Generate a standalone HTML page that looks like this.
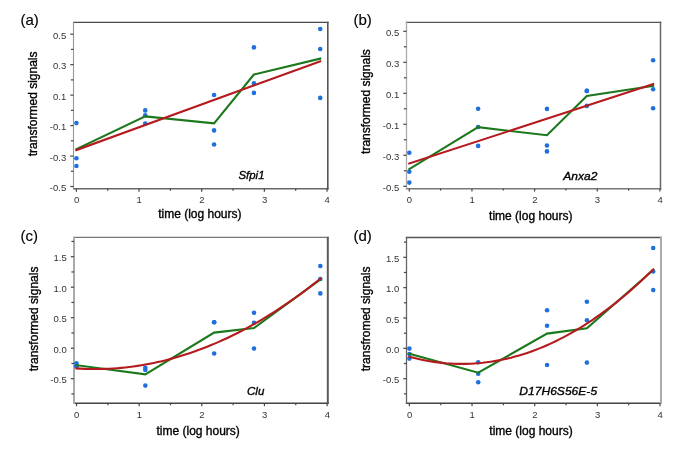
<!DOCTYPE html>
<html><head><meta charset="utf-8"><style>html,body{margin:0;padding:0;background:#fff;}svg{display:block;will-change:transform;}text{font-family:"Liberation Sans", sans-serif;}.t{stroke:#000;stroke-width:0.35px;}.t2{stroke:#000;stroke-width:0.15px;}</style></head><body>
<svg width="685" height="460" viewBox="0 0 685 460">
<rect x="0" y="0" width="685" height="460" fill="#fff"/>
<g>
<line x1="72.95" y1="22.3" x2="328.6" y2="22.3" stroke="#4a4a4a" stroke-width="1.2"/>
<line x1="72.95" y1="188.8" x2="328.6" y2="188.8" stroke="#666" stroke-width="1.6"/>
<line x1="73.5" y1="21.7" x2="73.5" y2="189.6" stroke="#999" stroke-width="1.1"/>
<line x1="327.8" y1="21.7" x2="327.8" y2="189.6" stroke="#555" stroke-width="1.6"/>
<line x1="70.3" y1="34.2" x2="73.5" y2="34.2" stroke="#444" stroke-width="1.2"/>
<text x="66.2" y="38.7" font-size="9.5" fill="#333" text-anchor="end">0.5</text>
<line x1="70.3" y1="64.66" x2="73.5" y2="64.66" stroke="#444" stroke-width="1.2"/>
<text x="66.2" y="69.16" font-size="9.5" fill="#333" text-anchor="end">0.3</text>
<line x1="70.3" y1="95.12" x2="73.5" y2="95.12" stroke="#444" stroke-width="1.2"/>
<text x="66.2" y="99.62" font-size="9.5" fill="#333" text-anchor="end">0.1</text>
<line x1="70.3" y1="125.58" x2="73.5" y2="125.58" stroke="#444" stroke-width="1.2"/>
<text x="66.2" y="130.08" font-size="9.5" fill="#333" text-anchor="end">-0.1</text>
<line x1="70.3" y1="156.04" x2="73.5" y2="156.04" stroke="#444" stroke-width="1.2"/>
<text x="66.2" y="160.54" font-size="9.5" fill="#333" text-anchor="end">-0.3</text>
<line x1="70.3" y1="186.5" x2="73.5" y2="186.5" stroke="#444" stroke-width="1.2"/>
<text x="66.2" y="191" font-size="9.5" fill="#333" text-anchor="end">-0.5</text>
<line x1="70.9" y1="49.43" x2="73.5" y2="49.43" stroke="#444" stroke-width="1.2"/>
<line x1="70.9" y1="79.89" x2="73.5" y2="79.89" stroke="#444" stroke-width="1.2"/>
<line x1="70.9" y1="110.35" x2="73.5" y2="110.35" stroke="#444" stroke-width="1.2"/>
<line x1="70.9" y1="140.81" x2="73.5" y2="140.81" stroke="#444" stroke-width="1.2"/>
<line x1="70.9" y1="171.27" x2="73.5" y2="171.27" stroke="#444" stroke-width="1.2"/>
<line x1="76.4" y1="188.8" x2="76.4" y2="191.7" stroke="#444" stroke-width="1.2"/>
<text x="76.6" y="203.4" font-size="9.5" fill="#333" text-anchor="middle">0</text>
<line x1="139.05" y1="188.8" x2="139.05" y2="191.7" stroke="#444" stroke-width="1.2"/>
<text x="139.25" y="203.4" font-size="9.5" fill="#333" text-anchor="middle">1</text>
<line x1="201.7" y1="188.8" x2="201.7" y2="191.7" stroke="#444" stroke-width="1.2"/>
<text x="201.9" y="203.4" font-size="9.5" fill="#333" text-anchor="middle">2</text>
<line x1="264.35" y1="188.8" x2="264.35" y2="191.7" stroke="#444" stroke-width="1.2"/>
<text x="264.55" y="203.4" font-size="9.5" fill="#333" text-anchor="middle">3</text>
<line x1="327" y1="188.8" x2="327" y2="191.7" stroke="#444" stroke-width="1.2"/>
<text x="327.2" y="203.4" font-size="9.5" fill="#333" text-anchor="middle">4</text>
<line x1="107.73" y1="188.8" x2="107.73" y2="190.7" stroke="#444" stroke-width="1.2"/>
<line x1="170.38" y1="188.8" x2="170.38" y2="190.7" stroke="#444" stroke-width="1.2"/>
<line x1="233.03" y1="188.8" x2="233.03" y2="190.7" stroke="#444" stroke-width="1.2"/>
<line x1="295.68" y1="188.8" x2="295.68" y2="190.7" stroke="#444" stroke-width="1.2"/>
<text x="199.85" y="217.9" font-size="12" class="t" fill="#000" text-anchor="middle">time (log hours)</text>
<text transform="translate(36.7,103.85) rotate(-90)" font-size="12" class="t" fill="#000" text-anchor="middle">transformed signals</text>
<text x="20.4" y="25.4" font-size="15" class="t2" fill="#000">(a)</text>
<text x="238.5" y="179.4" font-size="11.5" class="t" font-style="italic" fill="#000" textLength="26" lengthAdjust="spacingAndGlyphs">Sfpi1</text>
<circle cx="76.4" cy="123.1" r="2.3" fill="#1f70dd"/>
<circle cx="76.4" cy="158.3" r="2.3" fill="#1f70dd"/>
<circle cx="76.4" cy="166" r="2.3" fill="#1f70dd"/>
<circle cx="145.23" cy="110.4" r="2.3" fill="#1f70dd"/>
<circle cx="145.23" cy="115.3" r="2.3" fill="#1f70dd"/>
<circle cx="145.23" cy="123.5" r="2.3" fill="#1f70dd"/>
<circle cx="214.06" cy="95" r="2.3" fill="#1f70dd"/>
<circle cx="214.06" cy="130.4" r="2.3" fill="#1f70dd"/>
<circle cx="214.06" cy="144.5" r="2.3" fill="#1f70dd"/>
<circle cx="253.9" cy="47.4" r="2.3" fill="#1f70dd"/>
<circle cx="253.9" cy="83.2" r="2.3" fill="#1f70dd"/>
<circle cx="253.9" cy="92.9" r="2.3" fill="#1f70dd"/>
<circle cx="320.22" cy="29" r="2.3" fill="#1f70dd"/>
<circle cx="320.22" cy="49" r="2.3" fill="#1f70dd"/>
<circle cx="320.22" cy="97.9" r="2.3" fill="#1f70dd"/>
<polyline points="76.4,149.13 145.23,116.4 214.06,123.3 253.9,74.5 320.22,58.63" fill="none" stroke="#1c781c" stroke-width="2.1" stroke-linejoin="miter" stroke-linecap="square"/>
<polyline points="76.4,150.09 320.22,61.35" fill="none" stroke="#b51b1e" stroke-width="2.1" stroke-linejoin="round" stroke-linecap="square"/>
</g>
<g>
<line x1="405.85" y1="22.3" x2="661.25" y2="22.3" stroke="#555" stroke-width="1.3"/>
<line x1="405.85" y1="188.7" x2="661.25" y2="188.7" stroke="#777" stroke-width="1.6"/>
<line x1="406.5" y1="21.65" x2="406.5" y2="189.5" stroke="#aaa" stroke-width="1.3"/>
<line x1="660.5" y1="21.65" x2="660.5" y2="189.5" stroke="#666" stroke-width="1.5"/>
<line x1="403.3" y1="31.3" x2="406.5" y2="31.3" stroke="#444" stroke-width="1.2"/>
<text x="399.2" y="35.8" font-size="9.5" fill="#333" text-anchor="end">0.5</text>
<line x1="403.3" y1="62.3" x2="406.5" y2="62.3" stroke="#444" stroke-width="1.2"/>
<text x="399.2" y="66.8" font-size="9.5" fill="#333" text-anchor="end">0.3</text>
<line x1="403.3" y1="93.3" x2="406.5" y2="93.3" stroke="#444" stroke-width="1.2"/>
<text x="399.2" y="97.8" font-size="9.5" fill="#333" text-anchor="end">0.1</text>
<line x1="403.3" y1="124.3" x2="406.5" y2="124.3" stroke="#444" stroke-width="1.2"/>
<text x="399.2" y="128.8" font-size="9.5" fill="#333" text-anchor="end">-0.1</text>
<line x1="403.3" y1="155.3" x2="406.5" y2="155.3" stroke="#444" stroke-width="1.2"/>
<text x="399.2" y="159.8" font-size="9.5" fill="#333" text-anchor="end">-0.3</text>
<line x1="403.3" y1="186.3" x2="406.5" y2="186.3" stroke="#444" stroke-width="1.2"/>
<text x="399.2" y="190.8" font-size="9.5" fill="#333" text-anchor="end">-0.5</text>
<line x1="403.9" y1="46.8" x2="406.5" y2="46.8" stroke="#444" stroke-width="1.2"/>
<line x1="403.9" y1="77.8" x2="406.5" y2="77.8" stroke="#444" stroke-width="1.2"/>
<line x1="403.9" y1="108.8" x2="406.5" y2="108.8" stroke="#444" stroke-width="1.2"/>
<line x1="403.9" y1="139.8" x2="406.5" y2="139.8" stroke="#444" stroke-width="1.2"/>
<line x1="403.9" y1="170.8" x2="406.5" y2="170.8" stroke="#444" stroke-width="1.2"/>
<line x1="409.3" y1="188.7" x2="409.3" y2="191.6" stroke="#444" stroke-width="1.2"/>
<text x="409.5" y="203.3" font-size="9.5" fill="#333" text-anchor="middle">0</text>
<line x1="471.95" y1="188.7" x2="471.95" y2="191.6" stroke="#444" stroke-width="1.2"/>
<text x="472.15" y="203.3" font-size="9.5" fill="#333" text-anchor="middle">1</text>
<line x1="534.6" y1="188.7" x2="534.6" y2="191.6" stroke="#444" stroke-width="1.2"/>
<text x="534.8" y="203.3" font-size="9.5" fill="#333" text-anchor="middle">2</text>
<line x1="597.25" y1="188.7" x2="597.25" y2="191.6" stroke="#444" stroke-width="1.2"/>
<text x="597.45" y="203.3" font-size="9.5" fill="#333" text-anchor="middle">3</text>
<line x1="659.9" y1="188.7" x2="659.9" y2="191.6" stroke="#444" stroke-width="1.2"/>
<text x="660.1" y="203.3" font-size="9.5" fill="#333" text-anchor="middle">4</text>
<line x1="440.62" y1="188.7" x2="440.62" y2="190.6" stroke="#444" stroke-width="1.2"/>
<line x1="503.27" y1="188.7" x2="503.27" y2="190.6" stroke="#444" stroke-width="1.2"/>
<line x1="565.92" y1="188.7" x2="565.92" y2="190.6" stroke="#444" stroke-width="1.2"/>
<line x1="628.58" y1="188.7" x2="628.58" y2="190.6" stroke="#444" stroke-width="1.2"/>
<text x="530.8" y="219.5" font-size="12" class="t" fill="#000" text-anchor="middle">time (log hours)</text>
<text transform="translate(370.1,101.55) rotate(-90)" font-size="12" class="t" fill="#000" text-anchor="middle">transformed signals</text>
<text x="353.4" y="25.4" font-size="15" class="t2" fill="#000">(b)</text>
<text x="563.3" y="180.2" font-size="11.5" class="t" font-style="italic" fill="#000" textLength="34" lengthAdjust="spacingAndGlyphs">Anxa2</text>
<circle cx="409.3" cy="152.8" r="2.3" fill="#1f70dd"/>
<circle cx="409.3" cy="171.7" r="2.3" fill="#1f70dd"/>
<circle cx="409.3" cy="182.6" r="2.3" fill="#1f70dd"/>
<circle cx="478.13" cy="108.7" r="2.3" fill="#1f70dd"/>
<circle cx="478.13" cy="127" r="2.3" fill="#1f70dd"/>
<circle cx="478.13" cy="145.9" r="2.3" fill="#1f70dd"/>
<circle cx="546.96" cy="108.9" r="2.3" fill="#1f70dd"/>
<circle cx="546.96" cy="145.5" r="2.3" fill="#1f70dd"/>
<circle cx="546.96" cy="151.4" r="2.3" fill="#1f70dd"/>
<circle cx="586.8" cy="90.9" r="2.3" fill="#1f70dd"/>
<circle cx="586.8" cy="90.9" r="2.3" fill="#1f70dd"/>
<circle cx="586.8" cy="105.9" r="2.3" fill="#1f70dd"/>
<circle cx="653.12" cy="60.2" r="2.3" fill="#1f70dd"/>
<circle cx="653.12" cy="89.3" r="2.3" fill="#1f70dd"/>
<circle cx="653.12" cy="108.3" r="2.3" fill="#1f70dd"/>
<polyline points="409.3,169.03 478.13,127.2 546.96,135.27 586.8,95.9 653.12,85.93" fill="none" stroke="#1c781c" stroke-width="2.1" stroke-linejoin="miter" stroke-linecap="square"/>
<polyline points="409.3,163.55 653.12,84.16" fill="none" stroke="#b51b1e" stroke-width="2.1" stroke-linejoin="round" stroke-linecap="square"/>
</g>
<g>
<line x1="73" y1="237.4" x2="328.8" y2="237.4" stroke="#777" stroke-width="1.1"/>
<line x1="73" y1="403.3" x2="328.8" y2="403.3" stroke="#444" stroke-width="1.5"/>
<line x1="74" y1="236.85" x2="74" y2="404.05" stroke="#aaa" stroke-width="2.0"/>
<line x1="327.8" y1="236.85" x2="327.8" y2="404.05" stroke="#5a5a5a" stroke-width="2.0"/>
<line x1="70.8" y1="256.7" x2="74" y2="256.7" stroke="#444" stroke-width="1.2"/>
<text x="66.7" y="261.2" font-size="9.5" fill="#333" text-anchor="end">1.5</text>
<line x1="70.8" y1="287.2" x2="74" y2="287.2" stroke="#444" stroke-width="1.2"/>
<text x="66.7" y="291.7" font-size="9.5" fill="#333" text-anchor="end">1.0</text>
<line x1="70.8" y1="317.7" x2="74" y2="317.7" stroke="#444" stroke-width="1.2"/>
<text x="66.7" y="322.2" font-size="9.5" fill="#333" text-anchor="end">0.5</text>
<line x1="70.8" y1="348.2" x2="74" y2="348.2" stroke="#444" stroke-width="1.2"/>
<text x="66.7" y="352.7" font-size="9.5" fill="#333" text-anchor="end">0.0</text>
<line x1="70.8" y1="378.7" x2="74" y2="378.7" stroke="#444" stroke-width="1.2"/>
<text x="66.7" y="383.2" font-size="9.5" fill="#333" text-anchor="end">-0.5</text>
<line x1="71.4" y1="241.45" x2="74" y2="241.45" stroke="#444" stroke-width="1.2"/>
<line x1="71.4" y1="271.95" x2="74" y2="271.95" stroke="#444" stroke-width="1.2"/>
<line x1="71.4" y1="302.45" x2="74" y2="302.45" stroke="#444" stroke-width="1.2"/>
<line x1="71.4" y1="332.95" x2="74" y2="332.95" stroke="#444" stroke-width="1.2"/>
<line x1="71.4" y1="363.45" x2="74" y2="363.45" stroke="#444" stroke-width="1.2"/>
<line x1="71.4" y1="393.95" x2="74" y2="393.95" stroke="#444" stroke-width="1.2"/>
<line x1="76.5" y1="403.3" x2="76.5" y2="406.2" stroke="#444" stroke-width="1.2"/>
<text x="76.7" y="417.9" font-size="9.5" fill="#333" text-anchor="middle">0</text>
<line x1="139.15" y1="403.3" x2="139.15" y2="406.2" stroke="#444" stroke-width="1.2"/>
<text x="139.35" y="417.9" font-size="9.5" fill="#333" text-anchor="middle">1</text>
<line x1="201.8" y1="403.3" x2="201.8" y2="406.2" stroke="#444" stroke-width="1.2"/>
<text x="202" y="417.9" font-size="9.5" fill="#333" text-anchor="middle">2</text>
<line x1="264.45" y1="403.3" x2="264.45" y2="406.2" stroke="#444" stroke-width="1.2"/>
<text x="264.65" y="417.9" font-size="9.5" fill="#333" text-anchor="middle">3</text>
<line x1="327.1" y1="403.3" x2="327.1" y2="406.2" stroke="#444" stroke-width="1.2"/>
<text x="327.3" y="417.9" font-size="9.5" fill="#333" text-anchor="middle">4</text>
<line x1="107.83" y1="403.3" x2="107.83" y2="405.2" stroke="#444" stroke-width="1.2"/>
<line x1="170.47" y1="403.3" x2="170.47" y2="405.2" stroke="#444" stroke-width="1.2"/>
<line x1="233.12" y1="403.3" x2="233.12" y2="405.2" stroke="#444" stroke-width="1.2"/>
<line x1="295.77" y1="403.3" x2="295.77" y2="405.2" stroke="#444" stroke-width="1.2"/>
<text x="198.2" y="434.9" font-size="12" class="t" fill="#000" text-anchor="middle">time (log hours)</text>
<text transform="translate(37.6,318.95) rotate(-90)" font-size="12" class="t" fill="#000" text-anchor="middle">transformed signals</text>
<text x="20.4" y="240.6" font-size="15" class="t2" fill="#000">(c)</text>
<text x="247" y="395.4" font-size="11.5" class="t" font-style="italic" fill="#000" textLength="17.3" lengthAdjust="spacingAndGlyphs">Clu</text>
<circle cx="76.5" cy="363.2" r="2.3" fill="#1f70dd"/>
<circle cx="76.5" cy="366.2" r="2.3" fill="#1f70dd"/>
<circle cx="76.5" cy="366.2" r="2.3" fill="#1f70dd"/>
<circle cx="145.33" cy="367.7" r="2.3" fill="#1f70dd"/>
<circle cx="145.33" cy="369.9" r="2.3" fill="#1f70dd"/>
<circle cx="145.33" cy="385.6" r="2.3" fill="#1f70dd"/>
<circle cx="214.16" cy="322.2" r="2.3" fill="#1f70dd"/>
<circle cx="214.16" cy="322.2" r="2.3" fill="#1f70dd"/>
<circle cx="214.16" cy="353.5" r="2.3" fill="#1f70dd"/>
<circle cx="254" cy="312.8" r="2.3" fill="#1f70dd"/>
<circle cx="254" cy="322.8" r="2.3" fill="#1f70dd"/>
<circle cx="254" cy="348.5" r="2.3" fill="#1f70dd"/>
<circle cx="320.32" cy="266" r="2.3" fill="#1f70dd"/>
<circle cx="320.32" cy="279" r="2.3" fill="#1f70dd"/>
<circle cx="320.32" cy="293.4" r="2.3" fill="#1f70dd"/>
<polyline points="76.5,365.2 145.33,374.4 214.16,332.63 254,328.03 320.32,279.47" fill="none" stroke="#1c781c" stroke-width="2.1" stroke-linejoin="miter" stroke-linecap="square"/>
<polyline points="76.5,368.41 80.56,368.66 84.63,368.84 88.69,368.97 92.75,369.04 96.82,369.04 100.88,368.99 104.95,368.88 109.01,368.71 113.07,368.49 117.14,368.2 121.2,367.85 125.26,367.45 129.33,366.99 133.39,366.46 137.46,365.88 141.52,365.24 145.58,364.54 149.65,363.79 153.71,362.97 157.77,362.09 161.84,361.16 165.9,360.16 169.97,359.11 174.03,358 178.09,356.83 182.16,355.6 186.22,354.31 190.28,352.96 194.35,351.56 198.41,350.09 202.47,348.57 206.54,346.99 210.6,345.34 214.67,343.64 218.73,341.88 222.79,340.06 226.86,338.19 230.92,336.25 234.98,334.25 239.05,332.2 243.11,330.09 247.18,327.91 251.24,325.68 255.3,323.39 259.37,321.04 263.43,318.64 267.49,316.17 271.56,313.64 275.62,311.06 279.69,308.42 283.75,305.71 287.81,302.95 291.88,300.13 295.94,297.25 300,294.31 304.07,291.32 308.13,288.26 312.2,285.14 316.26,281.97 320.32,278.74" fill="none" stroke="#b51b1e" stroke-width="2.1" stroke-linejoin="round" stroke-linecap="square"/>
</g>
<g>
<line x1="405.85" y1="237.5" x2="662" y2="237.5" stroke="#555" stroke-width="1.3"/>
<line x1="405.85" y1="403.3" x2="662" y2="403.3" stroke="#444" stroke-width="1.5"/>
<line x1="406.5" y1="236.85" x2="406.5" y2="404.05" stroke="#666" stroke-width="1.3"/>
<line x1="661" y1="236.85" x2="661" y2="404.05" stroke="#aaa" stroke-width="2.0"/>
<line x1="403.3" y1="257.3" x2="406.5" y2="257.3" stroke="#444" stroke-width="1.2"/>
<text x="399.2" y="261.8" font-size="9.5" fill="#333" text-anchor="end">1.5</text>
<line x1="403.3" y1="287.65" x2="406.5" y2="287.65" stroke="#444" stroke-width="1.2"/>
<text x="399.2" y="292.15" font-size="9.5" fill="#333" text-anchor="end">1.0</text>
<line x1="403.3" y1="318" x2="406.5" y2="318" stroke="#444" stroke-width="1.2"/>
<text x="399.2" y="322.5" font-size="9.5" fill="#333" text-anchor="end">0.5</text>
<line x1="403.3" y1="348.35" x2="406.5" y2="348.35" stroke="#444" stroke-width="1.2"/>
<text x="399.2" y="352.85" font-size="9.5" fill="#333" text-anchor="end">0.0</text>
<line x1="403.3" y1="378.7" x2="406.5" y2="378.7" stroke="#444" stroke-width="1.2"/>
<text x="399.2" y="383.2" font-size="9.5" fill="#333" text-anchor="end">-0.5</text>
<line x1="403.9" y1="242.12" x2="406.5" y2="242.12" stroke="#444" stroke-width="1.2"/>
<line x1="403.9" y1="272.48" x2="406.5" y2="272.48" stroke="#444" stroke-width="1.2"/>
<line x1="403.9" y1="302.82" x2="406.5" y2="302.82" stroke="#444" stroke-width="1.2"/>
<line x1="403.9" y1="333.18" x2="406.5" y2="333.18" stroke="#444" stroke-width="1.2"/>
<line x1="403.9" y1="363.52" x2="406.5" y2="363.52" stroke="#444" stroke-width="1.2"/>
<line x1="403.9" y1="393.88" x2="406.5" y2="393.88" stroke="#444" stroke-width="1.2"/>
<line x1="409.4" y1="403.3" x2="409.4" y2="406.2" stroke="#444" stroke-width="1.2"/>
<text x="409.6" y="417.9" font-size="9.5" fill="#333" text-anchor="middle">0</text>
<line x1="472.05" y1="403.3" x2="472.05" y2="406.2" stroke="#444" stroke-width="1.2"/>
<text x="472.25" y="417.9" font-size="9.5" fill="#333" text-anchor="middle">1</text>
<line x1="534.7" y1="403.3" x2="534.7" y2="406.2" stroke="#444" stroke-width="1.2"/>
<text x="534.9" y="417.9" font-size="9.5" fill="#333" text-anchor="middle">2</text>
<line x1="597.35" y1="403.3" x2="597.35" y2="406.2" stroke="#444" stroke-width="1.2"/>
<text x="597.55" y="417.9" font-size="9.5" fill="#333" text-anchor="middle">3</text>
<line x1="660" y1="403.3" x2="660" y2="406.2" stroke="#444" stroke-width="1.2"/>
<text x="660.2" y="417.9" font-size="9.5" fill="#333" text-anchor="middle">4</text>
<line x1="440.72" y1="403.3" x2="440.72" y2="405.2" stroke="#444" stroke-width="1.2"/>
<line x1="503.38" y1="403.3" x2="503.38" y2="405.2" stroke="#444" stroke-width="1.2"/>
<line x1="566.02" y1="403.3" x2="566.02" y2="405.2" stroke="#444" stroke-width="1.2"/>
<line x1="628.67" y1="403.3" x2="628.67" y2="405.2" stroke="#444" stroke-width="1.2"/>
<text x="531" y="434.9" font-size="12" class="t" fill="#000" text-anchor="middle">time (log hours)</text>
<text transform="translate(370.4,318.9) rotate(-90)" font-size="12" class="t" fill="#000" text-anchor="middle">transfromed signals</text>
<text x="353.4" y="240.6" font-size="15" class="t2" fill="#000">(d)</text>
<text x="519.3" y="395.3" font-size="11.5" class="t" font-style="italic" fill="#000" textLength="77.8" lengthAdjust="spacingAndGlyphs">D17H6S56E-5</text>
<circle cx="409.4" cy="348.6" r="2.3" fill="#1f70dd"/>
<circle cx="409.4" cy="354" r="2.3" fill="#1f70dd"/>
<circle cx="409.4" cy="358.6" r="2.3" fill="#1f70dd"/>
<circle cx="478.23" cy="362.3" r="2.3" fill="#1f70dd"/>
<circle cx="478.23" cy="373.7" r="2.3" fill="#1f70dd"/>
<circle cx="478.23" cy="382.2" r="2.3" fill="#1f70dd"/>
<circle cx="547.06" cy="310.2" r="2.3" fill="#1f70dd"/>
<circle cx="547.06" cy="325.7" r="2.3" fill="#1f70dd"/>
<circle cx="547.06" cy="365" r="2.3" fill="#1f70dd"/>
<circle cx="586.9" cy="301.7" r="2.3" fill="#1f70dd"/>
<circle cx="586.9" cy="320.2" r="2.3" fill="#1f70dd"/>
<circle cx="586.9" cy="362.6" r="2.3" fill="#1f70dd"/>
<circle cx="653.22" cy="248" r="2.3" fill="#1f70dd"/>
<circle cx="653.22" cy="271.5" r="2.3" fill="#1f70dd"/>
<circle cx="653.22" cy="290.1" r="2.3" fill="#1f70dd"/>
<polyline points="409.4,353.73 478.23,372.73 547.06,333.63 586.9,328.17 653.22,269.87" fill="none" stroke="#1c781c" stroke-width="2.1" stroke-linejoin="miter" stroke-linecap="square"/>
<polyline points="409.4,356.78 413.46,357.84 417.53,358.82 421.59,359.71 425.65,360.51 429.72,361.23 433.78,361.86 437.85,362.41 441.91,362.87 445.97,363.25 450.04,363.54 454.1,363.75 458.16,363.87 462.23,363.91 466.29,363.86 470.36,363.72 474.42,363.5 478.48,363.2 482.55,362.81 486.61,362.33 490.67,361.77 494.74,361.12 498.8,360.39 502.87,359.58 506.93,358.67 510.99,357.69 515.06,356.61 519.12,355.45 523.18,354.21 527.25,352.88 531.31,351.47 535.37,349.97 539.44,348.38 543.5,346.71 547.57,344.96 551.63,343.12 555.69,341.19 559.76,339.18 563.82,337.09 567.88,334.9 571.95,332.64 576.01,330.28 580.08,327.85 584.14,325.32 588.2,322.72 592.27,320.02 596.33,317.24 600.39,314.38 604.46,311.43 608.52,308.4 612.59,305.28 616.65,302.07 620.71,298.78 624.78,295.4 628.84,291.94 632.9,288.4 636.97,284.76 641.03,281.05 645.1,277.24 649.16,273.36 653.22,269.38" fill="none" stroke="#b51b1e" stroke-width="2.1" stroke-linejoin="round" stroke-linecap="square"/>
</g>
</svg>
</body></html>
